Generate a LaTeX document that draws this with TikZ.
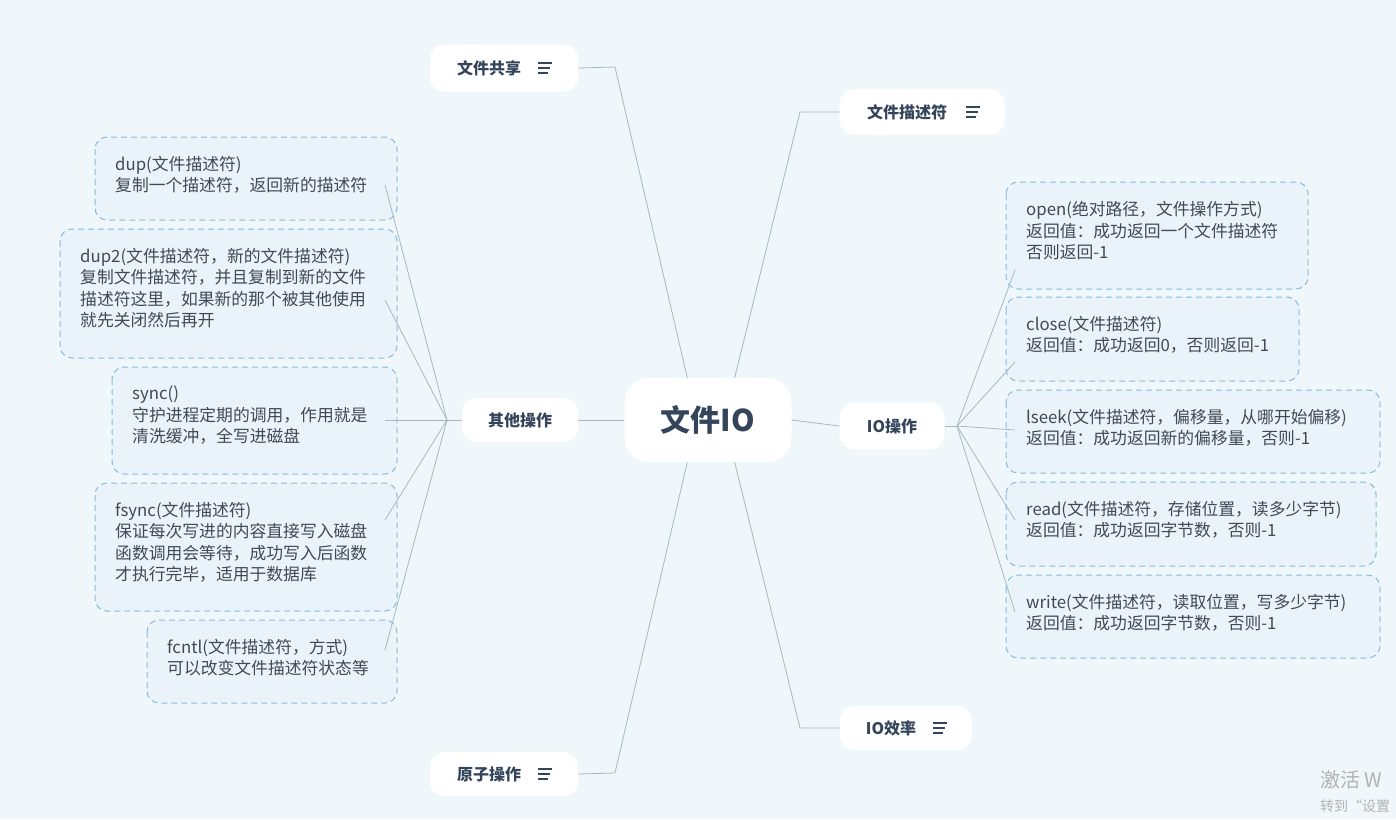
\documentclass[tikz,border=0pt]{standalone}
\usepackage{fontspec}
\setmainfont{Noto Sans CJK SC}
\begin{document}
\begin{tikzpicture}[x=1pt,y=-1pt,
  conn/.style={draw=lineC,line width=0.8pt},
  topic/.style={fill=white,rounded corners=14pt,inner sep=0pt,font=\fontsize{16}{18}\selectfont\bfseries,text=titleC},
  leaf/.style={draw=boxC,dash pattern=on 6pt off 4pt,fill=boxF,rounded corners=12pt,line width=1pt,inner sep=0pt},
  ltext/.style={anchor=north west,align=left,font=\fontsize{16.8}{21.5}\selectfont,text=leafT,inner sep=0pt},
  menu/.style={draw=titleC,line width=1.1pt}]
\definecolor{bgC}{HTML}{EFF7FB}
\definecolor{lineC}{HTML}{A5B8C4}
\definecolor{titleC}{HTML}{34445A}
\definecolor{boxC}{HTML}{86BCDD}
\definecolor{boxF}{HTML}{EAF3F9}
\definecolor{leafT}{HTML}{3E4A58}
\fill[bgC] (0,0) rectangle (1396,819);
\useasboundingbox (0,0) rectangle (1396,819);
% topics
\node[topic,minimum width=148pt,minimum height=47pt] (share) at (504,68) {\hspace*{-30pt}文件共享};
\node[topic,minimum width=165pt,minimum height=45pt] (fd) at (922,112) {\hspace*{-30pt}文件描述符};
\node[topic,minimum width=116pt,minimum height=44pt] (other) at (520,420) {其他操作};
\node[topic,minimum width=167pt,minimum height=84pt,rounded corners=24pt,font=\fontsize{30}{34}\selectfont\bfseries] (root) at (708,420) {文件IO};
\node[topic,minimum width=105pt,minimum height=47pt] (io) at (892,426) {IO操作};
\node[topic,minimum width=132pt,minimum height=44pt] (eff) at (906,728) {\hspace*{-30pt}IO效率};
\node[topic,minimum width=148pt,minimum height=44pt] (atom) at (504,774) {\hspace*{-30pt}原子操作};
% menu icons
\foreach \x/\y in {545/68, 973/112, 940/728, 545/774}{
  \draw[menu] (\x-7,\y-5) -- (\x+7,\y-5);
  \draw[menu] (\x-7,\y) -- (\x+5,\y);
  \draw[menu] (\x-7,\y+5) -- (\x+3,\y+5);
}
% leaves left
\draw[leaf] (95,137) rectangle (397,220); \node[ltext] (dup) at (115,156) {dup(文件描述符)\\复制一个描述符，返回新的描述符};
\draw[leaf] (60,229) rectangle (397,358); \node[ltext] (dup2) at (80,248) {dup2(文件描述符，新的文件描述符)\\复制文件描述符，并且复制到新的文件\\描述符这里，如果新的那个被其他使用\\就先关闭然后再开};
\draw[leaf] (112,367) rectangle (397,474); \node[ltext] (sync) at (132,386) {sync()\\守护进程定期的调用，作用就是\\清洗缓冲，全写进磁盘};
\draw[leaf] (95,483) rectangle (397,611); \node[ltext] (fsync) at (115,502) {fsync(文件描述符)\\保证每次写进的内容直接写入磁盘\\函数调用会等待，成功写入后函数\\才执行完毕，适用于数据库};
\draw[leaf] (147,620) rectangle (397,703); \node[ltext] (fcntl) at (167,639) {fcntl(文件描述符，方式)\\可以改变文件描述符状态等};
% leaves right
\draw[leaf] (1006,182) rectangle (1308,289); \node[ltext] (open) at (1026,201) {open(绝对路径，文件操作方式)\\返回值：成功返回一个文件描述符\\否则返回-1};
\draw[leaf] (1006,297) rectangle (1299,381); \node[ltext] (close) at (1026,316) {close(文件描述符)\\返回值：成功返回0，否则返回-1};
\draw[leaf] (1006,390) rectangle (1380,473); \node[ltext] (lseek) at (1026,409) {lseek(文件描述符，偏移量，从哪开始偏移)\\返回值：成功返回新的偏移量，否则-1};
\draw[leaf] (1006,482) rectangle (1376,566); \node[ltext] (read) at (1026,501) {read(文件描述符，存储位置，读多少字节)\\返回值：成功返回字节数，否则-1};
\draw[leaf] (1006,575) rectangle (1380,658); \node[ltext] (write) at (1026,594) {write(文件描述符，读取位置，写多少字节)\\返回值：成功返回字节数，否则-1};
% connectors from root
\coordinate (js) at (615,67); \coordinate (jf) at (800,112);
\coordinate (je) at (800,728); \coordinate (ja) at (615,773);
\draw[conn] (root.north west)++(63,0) -- (js) -- (share.east);
\draw[conn] (root.north east)++(-57,0) -- (jf) -- (fd.west);
\draw[conn] (root.south east)++(-57,0) -- (je) -- (eff.west);
\draw[conn] (root.south west)++(63,0) -- (ja) -- (atom.east);
\draw[conn] (root.east) .. controls (815,423) .. (io.west);
\draw[conn] (root.west) -- (other.east);
% other children
\coordinate (jo) at (447,420);
\draw[conn] (other.west) -- (jo);
\foreach \y in {185,300,420,520,650}{ \draw[conn] (jo) -- (385,\y); }
% io children
\coordinate (ji) at (957,426);
\draw[conn] (io.east) -- (ji);
\foreach \y in {270,362,430,520,612}{ \draw[conn] (ji) -- (1015,\y); }
% watermark
\node[anchor=west,text=gray!60,font=\fontsize{20}{22}\selectfont,inner sep=0pt] (wm1) at (1320,780) {激活 W};
\node[anchor=west,text=gray!60,font=\fontsize{14}{16}\selectfont,inner sep=0pt] (wm2) at (1320,806) {转到“设置};
\end{tikzpicture}
\end{document}
